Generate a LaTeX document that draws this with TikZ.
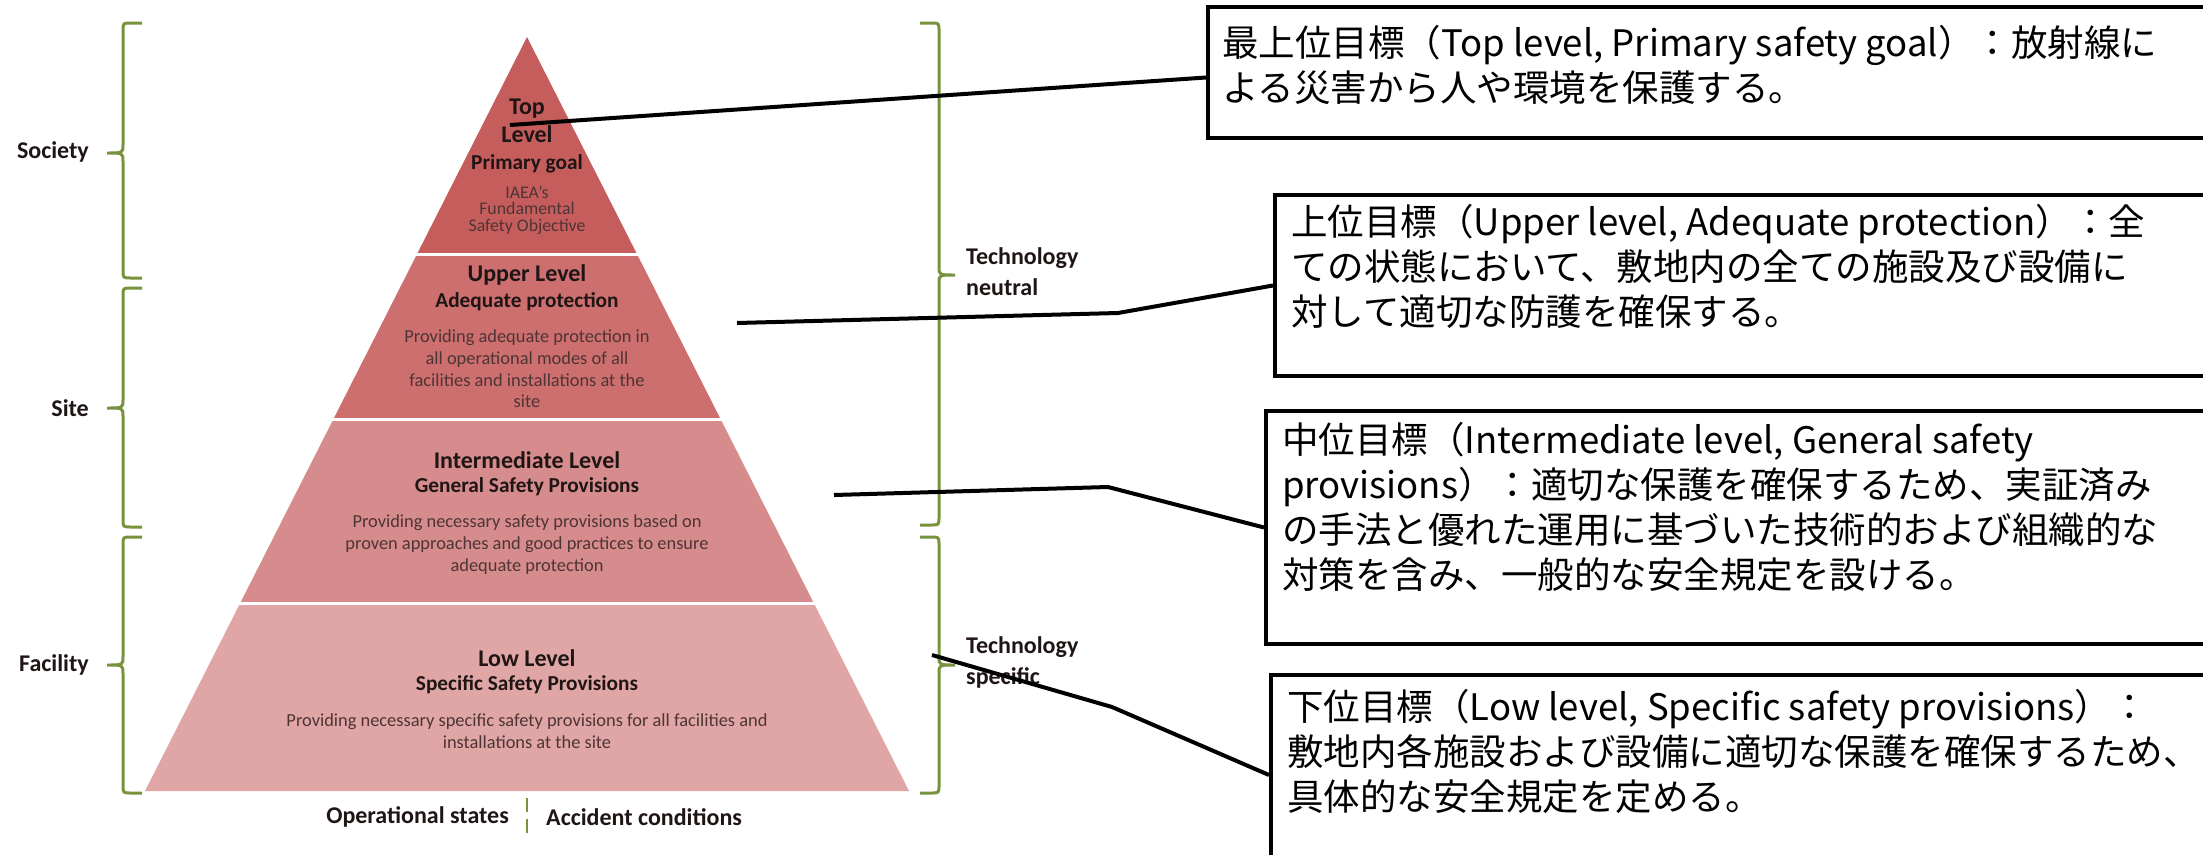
\documentclass[tikz,border=0pt]{standalone}
\usepackage{fontspec}
\setmainfont{Carlito}
\newfontfamily\jp{Noto Sans CJK JP}
\definecolor{ptop}{HTML}{C65D5D}
\definecolor{pup}{HTML}{CD6F6F}
\definecolor{pmid}{HTML}{D68C8C}
\definecolor{plow}{HTML}{E0A6A6}
\definecolor{brg}{HTML}{77933C}
\definecolor{hdc}{HTML}{1F1515}
\definecolor{bdc}{HTML}{4E3434}
\newcommand\LeftBr[4]{\draw[brc] (#1+19,#2) -- (#1+8,#2) .. controls (#1,#2) .. (#1,#2+8) -- (#1,#4-8) .. controls (#1,#4) .. (#1-16,#4) .. controls (#1,#4) .. (#1,#4+8) -- (#1,#3-8) .. controls (#1,#3) .. (#1+8,#3) -- (#1+19,#3);}
\newcommand\RightBr[4]{\draw[brc] (#1-19,#2) -- (#1-8,#2) .. controls (#1,#2) .. (#1,#2+8) -- (#1,#4-8) .. controls (#1,#4) .. (#1+16,#4) .. controls (#1,#4) .. (#1,#4+8) -- (#1,#3-8) .. controls (#1,#3) .. (#1-8,#3) -- (#1-19,#3);}
\begin{document}
\begin{tikzpicture}[x=1pt,y=-1pt,
  hd/.style={font=\bfseries\fontsize{24}{28}\selectfont, text=hdc, align=center, inner sep=0},
  sh/.style={font=\bfseries\fontsize{21.3}{25}\selectfont, text=hdc, align=center, inner sep=0},
  bd/.style={font=\fontsize{18.4}{21.7}\selectfont, text=bdc, align=center, inner sep=0},
  sidelbl/.style={font=\bfseries\fontsize{24}{31}\selectfont, text=hdc, inner sep=0},
  jt/.style={font=\jp\fontsize{36.5}{45}\selectfont, align=left, anchor=north west, inner sep=0, text=black},
  jbox/.style={draw=black, line width=4pt, fill=white, anchor=north west, inner sep=0},
  conn/.style={draw=black, line width=4pt, line join=round},
  brc/.style={draw=brg, line width=3pt}]
\clip (0,0) rectangle (2203,854);
\fill[white] (0,0) rectangle (2203,854);
% pyramid
\begin{scope}\clip (0,30) rectangle (1100,252);
\fill[ptop] (527,37) -- (909,791) -- (145,791) -- cycle;\end{scope}
\begin{scope}\clip (0,256) rectangle (1100,417);
\fill[pup] (527,37) -- (909,791) -- (145,791) -- cycle;\end{scope}
\begin{scope}\clip (0,421) rectangle (1100,601);
\fill[pmid] (527,37) -- (909,791) -- (145,791) -- cycle;\end{scope}
\begin{scope}\clip (0,605) rectangle (1100,791);
\fill[plow] (527,37) -- (909,791) -- (145,791) -- cycle;\end{scope}
% pyramid texts
\node[hd] (toph) at (527,121) {Top\\Level};
\node[sh] (topsub) at (527,164) {Primary goal};
\node[bd, font=\fontsize{17.8}{16.5}\selectfont] (topbody) at (527,210) {IAEA’s\\Fundamental\\Safety Objective};
\node[hd] (uph) at (527,275) {Upper Level};
\node[sh] (upsub) at (527,302) {Adequate protection};
\node[bd] (upbody) at (527,369) {Providing adequate protection in\\all operational modes of all\\facilities and installations at the\\site};
\node[hd] (midh) at (527,460) {Intermediate Level};
\node[sh] (midsub) at (527,487) {General Safety Provisions};
\node[bd] (midbody) at (527,544.5) {Providing necessary safety provisions based on\\proven approaches and good practices to ensure\\adequate protection};
\node[hd] (lowh) at (527,658) {Low Level};
\node[sh] (lowsub) at (527,685) {Specific Safety Provisions};
\node[bd] (lowbody) at (527,731) {Providing necessary specific safety provisions for all facilities and\\installations at the site};
% braces
\LeftBr{123}{23}{278}{153}
\LeftBr{123}{288}{527}{408}
\LeftBr{123}{537}{793}{665}
\RightBr{939}{23}{525}{275}
\RightBr{939}{537}{793}{665}
\node[sidelbl, anchor=east] (soc) at (89,152) {Society};
\node[sidelbl, anchor=east] (site) at (89,408) {Site};
\node[sidelbl, anchor=east] (fac) at (89,665) {Facility};
\node[sidelbl, anchor=west, align=left] (tneu) at (966,272) {Technology\\neutral};
\node[sidelbl, anchor=west, align=left] (tspe) at (966,662) {Technology\\specific};
% bottom
\node[sidelbl, anchor=east] (ops) at (509,817) {Operational states};
\node[sidelbl, anchor=west] (acc) at (546,817) {Accident conditions};
\coordinate (dv1) at (527,798);
\coordinate (dv2) at (527,836);
\draw[brc, line width=2.5pt, dash pattern=on 14pt off 7pt] (dv1) -- (dv2);
% boxes
\node[jbox, minimum width=1030, minimum height=131] (b1) at (1206,5) {};
\node[jbox, minimum width=960, minimum height=181] (b2) at (1273,193) {};
\node[jbox, minimum width=970, minimum height=233] (b3) at (1264,409) {};
\node[jbox, minimum width=960, minimum height=200] (b4) at (1269,673) {};
\node[jt] (t1) at (1222,25) {最上位目標（Top level, Primary safety goal）：放射線に\\よる災害から人や環境を保護する。};
\node[jt] (t2) at (1291,204) {上位目標（Upper level, Adequate protection）：全\\ての状態において、敷地内の全ての施設及び設備に\\対して適切な防護を確保する。};
\node[jt] (t3) at (1282,422) {中位目標（Intermediate level, General safety\\provisions）：適切な保護を確保するため、実証済み\\の手法と優れた運用に基づいた技術的および組織的な\\対策を含み、一般的な安全規定を設ける。};
\node[jt] (t4) at (1287,689) {下位目標（Low level, Specific safety provisions）：\\敷地内各施設および設備に適切な保護を確保するため、\\具体的な安全規定を定める。};
% connectors
\coordinate (c1) at (510,125);
\coordinate (c2) at (737,323);
\coordinate (k2) at (1118,313);
\coordinate (c3) at (834,495);
\coordinate (k3) at (1108,487);
\coordinate (c4) at (932,655);
\coordinate (k4) at (1112,707);
\draw[conn] (c1) -- ([yshift=-5pt]b1.west);
\draw[conn] (c2) -- (k2) -- (b2.west);
\draw[conn] (c3) -- (k3) -- (b3.west);
\draw[conn] (c4) -- (k4) -- (b4.west);
\end{tikzpicture}
\end{document}
